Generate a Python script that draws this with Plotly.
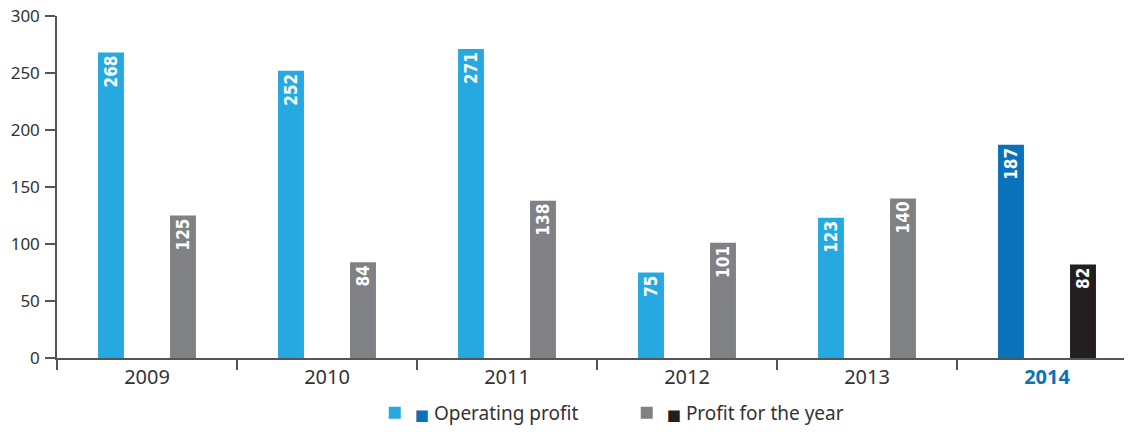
import plotly.graph_objects as go

years = ["2009", "2010", "2011", "2012", "2013", "2014"]
year_labels = ["2009", "2010", "2011", "2012", "2013",
               "<b><span style='color:#0A72BA'>2014</span></b>"]
operating_profit = [268, 252, 271, 75, 123, 187]
profit_for_year = [125, 84, 138, 101, 140, 82]

op_colors = ["#25A9E0"] * 5 + ["#0A72BA"]
py_colors = ["#808184"] * 5 + ["#231F20"]

label_font = dict(family="Liberation Sans Narrow, DejaVu Sans Condensed, sans-serif",
                  size=18, color="white", weight="bold")

sq = "<span style='color:{c};font-size:15px;font-family:DejaVu Sans'>■</span>"

fig = go.Figure()
fig.add_trace(go.Bar(
    x=years, y=operating_profit, name=sq.format(c="#0A72BA") + " Operating profit",
    marker=dict(color=op_colors, line=dict(width=0)),
    text=[f"<b>{v}</b>" for v in operating_profit], textposition="inside",
    insidetextanchor="end", textangle=-90, textfont=label_font,
    cliponaxis=False,
))
fig.add_trace(go.Bar(
    x=years, y=profit_for_year, name=sq.format(c="#231F20") + " Profit for the year",
    marker=dict(color=py_colors, line=dict(width=0)),
    text=[f"<b>{v}</b>" for v in profit_for_year], textposition="inside",
    insidetextanchor="end", textangle=-90, textfont=label_font,
    cliponaxis=False,
))

fig.update_layout(
    width=1132, height=432,
    margin=dict(l=49, r=8, t=8, b=82, autoexpand=False),
    paper_bgcolor="white", plot_bgcolor="white",
    barmode="group", bargap=0.2, bargroupgap=0.64,
    font=dict(family="Noto Sans, sans-serif", color="#333333"),
    showlegend=True,
    legend=dict(orientation="h", x=0.53, xanchor="center",
                yref="container", y=1 - 405 / 432, yanchor="middle",
                font=dict(size=19, color="#333333"), itemclick=False,
                entrywidth=207, entrywidthmode="pixels",
                traceorder="normal"),
    uniformtext=dict(mode=False),
)
fig.update_xaxes(
    type="category", tickson="boundaries", range=[-0.5, 5.5 - 5 / 180],
    tickmode="array", tickvals=years, ticktext=year_labels, automargin=False,
    ticks="outside", ticklen=10, tickcolor="#555555", tickwidth=1.5,
    showline=True, linecolor="#555555", linewidth=1.5,
    showgrid=False, zeroline=False, ticklabeloverflow="allow",
    tickfont=dict(size=20, color="#333333"),
)
fig.update_yaxes(
    range=[0, 300], tickvals=[0, 50, 100, 150, 200, 250, 300], automargin=False,
    ticks="outside", ticklen=10, tickcolor="#555555", tickwidth=1.5,
    showline=True, linecolor="#555555", linewidth=1.5, ticklabelstandoff=2,
    showgrid=False, zeroline=False, ticklabeloverflow="allow",
    tickfont=dict(size=17, color="#333333"),
)

fig.write_html("out.html")
